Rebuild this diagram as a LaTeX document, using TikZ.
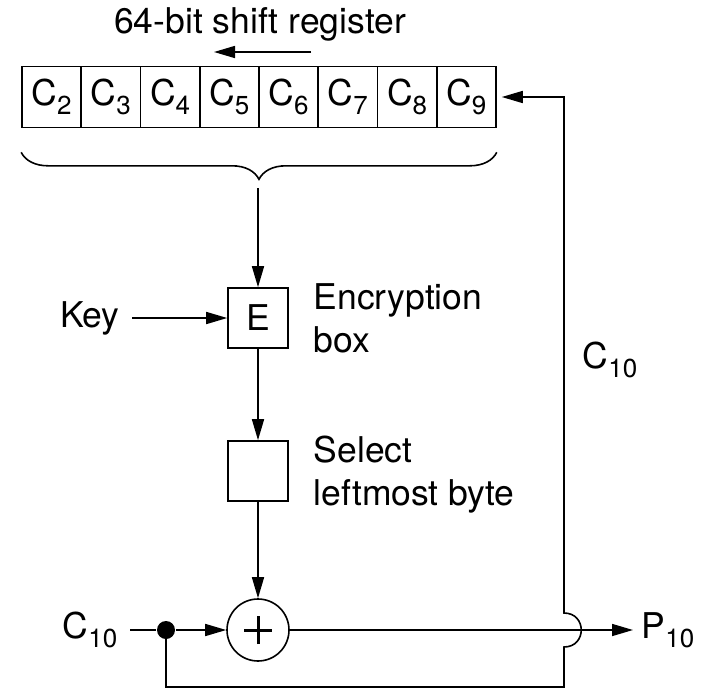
\documentclass[tikz,border=0pt]{standalone}
\usepackage{fontspec}
\setmainfont{TeX Gyre Heros}
\usetikzlibrary{arrows.meta,positioning,decorations.pathreplacing}
\newcommand{\sbs}[1]{\raisebox{-9pt}{\fontsize{26}{26}\selectfont #1}}

\begin{document}
\begin{tikzpicture}[x=1pt,y=-1pt,line width=1.6pt,
  every node/.style={font=\fontsize{35.5}{43}\selectfont,inner sep=0pt},
  cell/.style={draw,minimum width=59.25pt,minimum height=61pt},
  blk/.style={draw,minimum width=60pt,minimum height=60pt},
  arr/.style={-{Triangle[length=21pt,width=12pt]}}]

  \useasboundingbox (0,0) rectangle (702,697);

  % ---- Shift register ------------------------------------------
  \foreach \i in {2,...,9}
    \node[cell] (c\i) at ({51.6+59.25*(\i-2)},97) {C\sbs{\i}};
  \node (title) at (260,24) {64-bit shift register};
  \coordinate (sh1) at (311,52);
  \coordinate (sh2) at (214,52);
  \draw[arr] (sh1) -- (sh2);

  % brace under the register
  \draw[decorate,decoration={brace,mirror,amplitude=27pt}]
    ([yshift=-24pt]c2.south west) -- ([yshift=-24pt]c9.south east);
  \coordinate (tip) at (258,188);

  % ---- Encryption path -----------------------------------------
  \node[blk] (enc) at (258,318) {E};
  \node[anchor=west,align=left] (enclbl) at (313,318) {Encryption\\box};
  \node (key) at (90,318) {Key};
  \node[blk] (sel) at (258,471) {};
  \node[anchor=west,align=left] (sellbl) at (313,475) {Select\\leftmost byte};
  \node[draw,circle,minimum size=62pt] (xor) at (258,630) {};
  % plus sign
  \draw[line width=3pt] ([xshift=-14pt]xor.center) -- ([xshift=14pt]xor.center);
  \draw[line width=3pt] ([yshift=-14pt]xor.center) -- ([yshift=14pt]xor.center);

  \draw[arr] (tip) -- (enc);
  \draw[arr,shorten <=12pt] (key) -- (enc);
  \draw[arr] (enc) -- (sel);
  \draw[arr] (sel) -- (xor);

  % ---- Input / output ------------------------------------------
  \node (cin) at (90,630) {C\sbs{10}};
  \node[circle,fill,minimum size=18pt] (dot) at (166,630) {};
  \node[anchor=west] (pout) at (641,630) {P\sbs{10}};
  \draw[shorten <=12pt] (cin) -- (dot);
  \draw[arr] (dot) -- (xor);
  \draw[arr,shorten >=8pt] (xor) -- (xor -| pout.west);

  % ---- Feedback loop (hops over the output line) ---------------
  \coordinate (fb1) at (564,687);
  \coordinate (fb2) at (564,647);
  \coordinate (fb3) at (564,613);
  \coordinate (fb4) at (564,97);
  \draw[arr,shorten >=5pt] (dot.center) |- (fb1) -- (fb2)
    .. controls (587,647) and (587,613) .. (fb3) -- (fb4) -- (c9.east);
  \node (cfb) at (610,360) {C\sbs{10}};

\end{tikzpicture}
\end{document}
